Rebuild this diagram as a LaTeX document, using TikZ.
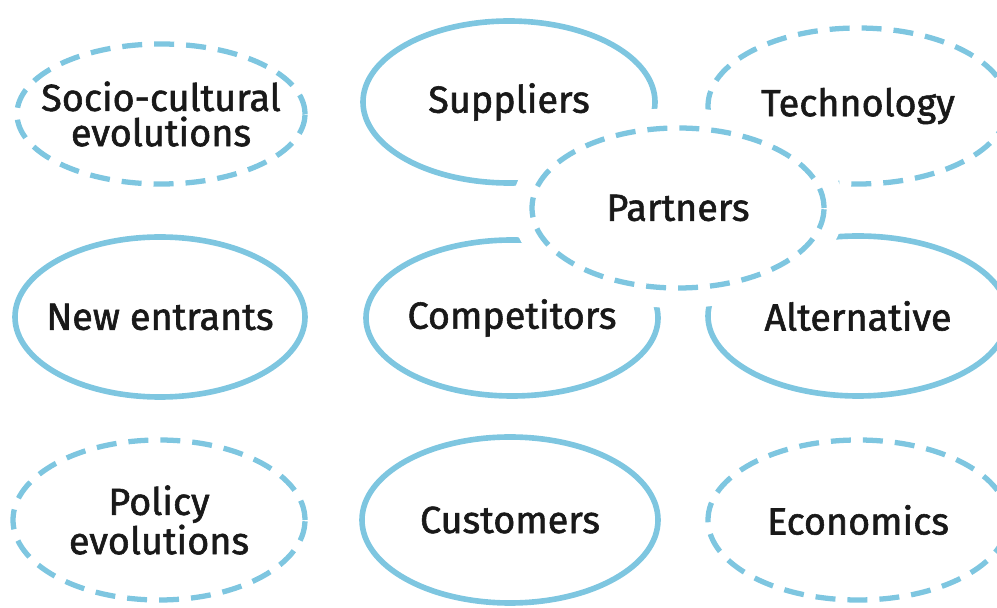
\documentclass[tikz,border=0pt]{standalone}
\usepackage{fontspec}
\setmainfont{Fira Sans}
\newfontfamily\ringfont{Fira Sans}[FakeBold=1.5]
\usepackage{tikz}
\usetikzlibrary{shapes.geometric}
\definecolor{ringblue}{RGB}{126,198,224}

\begin{document}
\begin{tikzpicture}[
    ring/.style={ellipse, draw=ringblue, line width=3.2pt, inner sep=0pt, minimum width=5.84cm, minimum height=3.2cm},
    solidring/.style={ring},
    dashring/.style={ring, line width=3pt, dash pattern=on 0.4cm off 0.24cm},
    lbl/.style={font=\ringfont\fontsize{21.5}{20}\selectfont, align=center, text=black!90}
]
\clip (0,0) rectangle (19.94,-12.16);

% Top row
\node[dashring, minimum width=5.76cm, minimum height=2.8cm] (socio) at (3.22,-2.28) {};
\node[lbl] (socio-text) at (socio) {Socio-cultural\\evolutions};

\node[solidring, minimum height=3.24cm] (suppliers) at (10.18,-2.04) {};
\node[lbl] (suppliers-text) at (suppliers) {Suppliers};

\node[dashring, minimum width=6cm, minimum height=3.12cm] (technology) at (17.16,-2.12) {};
\node[lbl] (technology-text) at (technology) {Technology};

% Middle row
\node[solidring, minimum width=5.8cm] (newent) at (3.20,-6.34) {};
\node[lbl] (newent-text) at (newent) {New entrants};

\node[solidring, minimum height=3.12cm] (competitors) at (10.24,-6.36) {};
\node[lbl] (competitors-text) at (competitors) {Competitors};

\node[solidring, minimum width=6cm] (alternative) at (17.16,-6.32) {};
\node[lbl] (alternative-text) at (alternative) {Alternative};

% Bottom row
\node[dashring] (policy) at (3.18,-10.40) {};
\node[lbl] (policy-text) at (policy) {Policy\\evolutions};

\node[solidring, minimum width=5.92cm, minimum height=3.32cm] (customers) at (10.20,-10.40) {};
\node[lbl] (customers-text) at (customers) {Customers};

\node[dashring, minimum width=6cm] (economics) at (17.16,-10.40) {};
\node[lbl] (economics-text) at (economics) {Economics};

% Partners on top, white halo cuts the rings below
\node[dashring, fill=white, preaction={draw=white, solid, line width=0.8cm}] (partners) at (13.56,-4.16) {};
\node[lbl] (partners-text) at (partners) {Partners};

\end{tikzpicture}
\end{document}
